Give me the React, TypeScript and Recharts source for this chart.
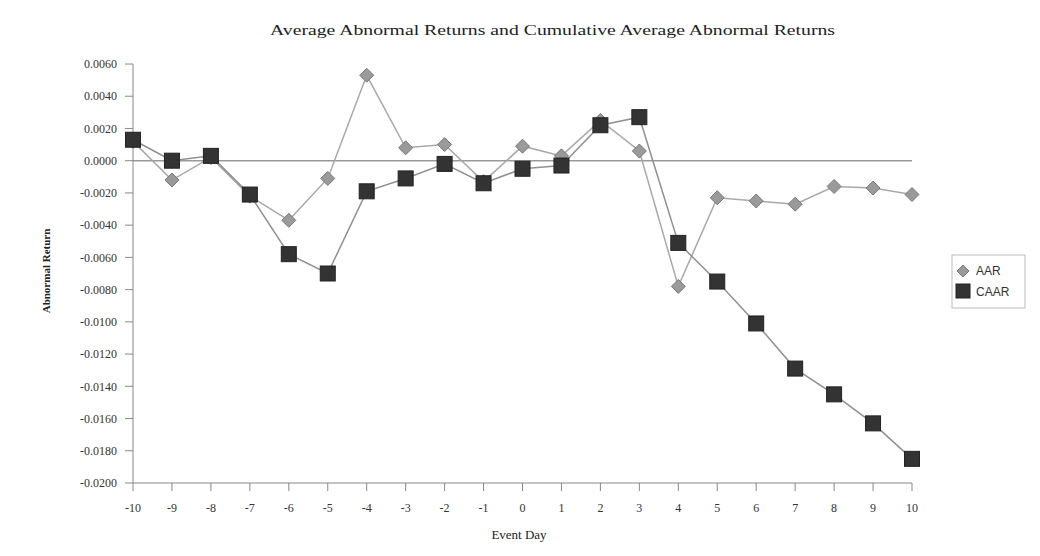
import { LineChart, Line, XAxis, YAxis, ReferenceLine } from "recharts";

const days = [-10, -9, -8, -7, -6, -5, -4, -3, -2, -1, 0, 1, 2, 3, 4, 5, 6, 7, 8, 9, 10];
const aar = [
  0.0012, -0.0012, 0.0002, -0.0022, -0.0037, -0.0011, 0.0053, 0.0008, 0.001, -0.0013, 0.0009,
  0.0003, 0.0025, 0.0006, -0.0078, -0.0023, -0.0025, -0.0027, -0.0016, -0.0017, -0.0021,
];
const caar = [
  0.0013, 0.0, 0.0003, -0.0021, -0.0058, -0.007, -0.0019, -0.0011, -0.0002, -0.0014, -0.0005,
  -0.0003, 0.0022, 0.0027, -0.0051, -0.0075, -0.0101, -0.0129, -0.0145, -0.0163, -0.0185,
];
const yTicks = [
  0.006, 0.004, 0.002, 0, -0.002, -0.004, -0.006, -0.008, -0.01, -0.012, -0.014, -0.016, -0.018,
  -0.02,
];

const data = days.map((d, i) => ({ day: d, AAR: aar[i], CAAR: caar[i] }));

const serif = "'Liberation Serif', 'DejaVu Serif', serif";

const Diamond = (props: any) => {
  const { cx, cy, index } = props;
  if (cx == null || cy == null) return null;
  const r = 7;
  return (
    <polygon
      key={`d-${index}`}
      points={`${cx},${cy - r} ${cx + r},${cy} ${cx},${cy + r} ${cx - r},${cy}`}
      fill="#9a9a9a"
      stroke="#777"
      strokeWidth={1}
    />
  );
};

const Square = (props: any) => {
  const { cx, cy, index } = props;
  if (cx == null || cy == null) return null;
  const s = 15;
  return (
    <rect
      key={`s-${index}`}
      x={cx - s / 2}
      y={cy - s / 2}
      width={s}
      height={s}
      fill="#333"
      stroke="#222"
      strokeWidth={1}
    />
  );
};

export default function App() {
  return (
    <div style={{ position: "absolute", left: 0, top: 0, width: 1040, height: 556, background: "#fff" }}>
      <LineChart
        width={1040}
        height={556}
        data={data}
        margin={{ top: 64, right: 128, bottom: 33, left: 0 }}
      >
        <XAxis
          dataKey="day"
          type="number"
          domain={[-10, 10]}
          ticks={days}
          interval={0}
          height={40}
          tickSize={8}
          tickMargin={12}
          stroke="#888"
          tick={{ fill: "#333", fontSize: 12, fontFamily: serif }}
        />
        <YAxis
          type="number"
          domain={[-0.02, 0.006]}
          ticks={yTicks}
          interval={0}
          width={133}
          tickSize={8}
          tickMargin={8}
          stroke="#888"
          tick={{ fill: "#333", fontSize: 12, fontFamily: serif }}
          tickFormatter={(v: number) => v.toFixed(4)}
        />
        <ReferenceLine y={0} stroke="#999" strokeWidth={1.5} />
        <Line
          dataKey="AAR"
          stroke="#a8a8a8"
          strokeWidth={1.5}
          dot={Diamond}
          activeDot={false}
          isAnimationActive={false}
        />
        <Line
          dataKey="CAAR"
          stroke="#909090"
          strokeWidth={1.5}
          dot={Square}
          activeDot={false}
          isAnimationActive={false}
        />
      </LineChart>
      <svg
        width={1040}
        height={556}
        style={{ position: "absolute", left: 0, top: 0, pointerEvents: "none" }}
      >
        <text
          x={270}
          y={35}
          fontFamily={serif}
          fontSize={14}
          fill="#222"
          textLength={565}
          lengthAdjust="spacingAndGlyphs"
        >
          Average Abnormal Returns and Cumulative Average Abnormal Returns
        </text>
        <text
          x={0}
          y={0}
          transform="translate(50,271) rotate(-90)"
          textAnchor="middle"
          fontFamily={serif}
          fontSize={11}
          fontWeight="bold"
          fill="#222"
        >
          Abnormal Return
        </text>
        <text x={519} y={539} textAnchor="middle" fontFamily={serif} fontSize={13} fill="#222">
          Event Day
        </text>
        <rect x={952} y={255} width={73} height={53} fill="#fff" stroke="#bbb" strokeWidth={1} />
        <polygon points="963,265 969,271 963,277 957,271" fill="#9a9a9a" stroke="#777" />
        <text x={976} y={275} fontFamily="'Liberation Sans', Arial, sans-serif" fontSize={12} fill="#333">
          AAR
        </text>
        <rect x={956} y={284} width={14} height={14} fill="#333" stroke="#222" />
        <text x={976} y={296} fontFamily="'Liberation Sans', Arial, sans-serif" fontSize={12} fill="#333">
          CAAR
        </text>
      </svg>
    </div>
  );
}
